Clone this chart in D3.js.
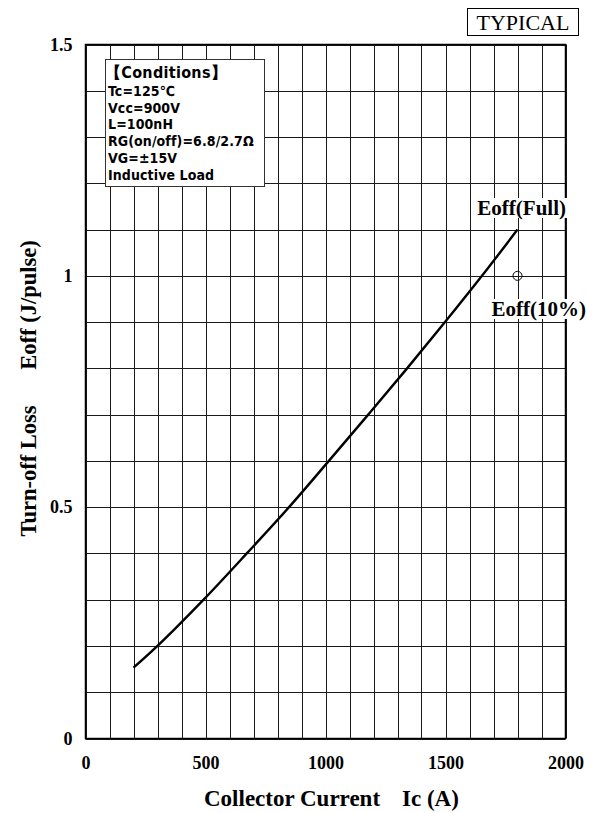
<!DOCTYPE html>
<html>
<head>
<meta charset="utf-8">
<script src="https://cdn.jsdelivr.net/npm/d3@7"></script>
<style>
  body { margin: 0; background: #fff; }
  svg { display: block; }
</style>
</head>
<body>
<div id="chart"></div>
<script>
// values (Ic where the curve crosses each grid line)
var current = [200, 300, 492, 672, 848, 1014, 1178, 1340, 1498, 1652, 1800];
var eoffFull = [0.153, 0.2, 0.3, 0.4, 0.5, 0.6, 0.7, 0.8, 0.9, 1.0, 1.1];
var eoff10 = [{ ic: 1800, e: 1.0 }];
var xTicks = [0, 500, 1000, 1500, 2000];
var yTicks = [0, 0.5, 1, 1.5];
var conditions = ["【Conditions】", "Tc=125℃", "Vcc=900V", "L=100nH",
                  "RG(on/off)=6.8/2.7Ω", "VG=±15V", "Inductive Load"];

var W = 597, H = 813;
var dim = { left: 85.5, right: 565.5, top: 44.5, bottom: 738.5 };

var svg = d3.select("#chart").append("svg")
            .attr("width", W)
            .attr("height", H);

var xScale = d3.scaleLinear().domain([0, 2000]).range([dim.left, dim.right]);
var yScale = d3.scaleLinear().domain([0, 1.5]).range([dim.bottom, dim.top]);

// grid lines, 100 A and 0.1 J
var grid = svg.append("g").attr("stroke", "#1a1a1a").attr("stroke-width", 1);
grid.selectAll(".vg")
    .data(xScale.ticks(20))
    .enter().append("line")
    .attr("x1", function(d) { return Math.round(xScale(d)) + 0.5; })
    .attr("x2", function(d) { return Math.round(xScale(d)) + 0.5; })
    .attr("y1", dim.top)
    .attr("y2", dim.bottom);
grid.selectAll(".hg")
    .data(yScale.ticks(15))
    .enter().append("line")
    .attr("y1", function(d) { return Math.round(yScale(d)) + 0.5; })
    .attr("y2", function(d) { return Math.round(yScale(d)) + 0.5; })
    .attr("x1", dim.left)
    .attr("x2", dim.right);

// frame
svg.append("rect")
   .attr("x", dim.left).attr("y", dim.top)
   .attr("width", dim.right - dim.left)
   .attr("height", dim.bottom - dim.top)
   .attr("fill", "none")
   .attr("stroke", "#000")
   .attr("stroke-width", 1.5);

// axes (labels only)
var xAxis = d3.axisBottom(xScale).tickValues(xTicks).tickSize(0).tickPadding(0)
              .tickFormat(d3.format("d"));
svg.append("g")
   .attr("class", "xAxis")
   .attr("transform", "translate(0," + (dim.bottom + 24) + ")")
   .call(xAxis);
var yAxis = d3.axisLeft(yScale).tickValues(yTicks).tickSize(0).tickPadding(13)
              .tickFormat(function(d) { return d; });
svg.append("g")
   .attr("class", "yAxis")
   .attr("transform", "translate(" + dim.left + ",0)")
   .call(yAxis);
svg.selectAll(".xAxis .domain, .yAxis .domain").remove();
svg.selectAll(".xAxis text, .yAxis text")
   .attr("font-family", "Liberation Serif")
   .attr("font-weight", "bold")
   .attr("font-size", 18)
   .attr("fill", "#000");
svg.selectAll(".xAxis text").attr("dy", "0.35em");

// axis titles
svg.append("text")
   .attr("x", 204).attr("y", 806)
   .attr("font-family", "Liberation Serif")
   .attr("font-weight", "bold")
   .attr("font-size", 23)
   .text("Collector Current");
svg.append("text")
   .attr("x", 402).attr("y", 806)
   .attr("font-family", "Liberation Serif")
   .attr("font-weight", "bold")
   .attr("font-size", 23)
   .text("Ic (A)");
svg.append("text")
   .attr("transform", "translate(36,471) rotate(-90)")
   .attr("text-anchor", "middle")
   .attr("font-family", "Liberation Serif")
   .attr("font-weight", "bold")
   .attr("font-size", 22.5)
   .text("Turn-off Loss");
svg.append("text")
   .attr("transform", "translate(36,305) rotate(-90)")
   .attr("text-anchor", "middle")
   .attr("font-family", "Liberation Serif")
   .attr("font-weight", "bold")
   .attr("font-size", 22.5)
   .text("Eoff (J/pulse)");

// curve
var line = d3.line()
             .x(function(d, i) { return xScale(current[i]); })
             .y(function(d) { return yScale(d); })
             .curve(d3.curveCatmullRom);
svg.append("path")
   .attr("d", line(eoffFull))
   .attr("fill", "none")
   .attr("stroke", "#000")
   .attr("stroke-width", 2.4);

// 10% point
svg.selectAll(".pt")
   .data(eoff10)
   .enter().append("circle")
   .attr("cx", function(d) { return xScale(d.ic); })
   .attr("cy", function(d) { return yScale(d.e); })
   .attr("r", 4.5)
   .attr("fill", "none")
   .attr("stroke", "#000")
   .attr("stroke-width", 1);

// series labels with white backing
function label(txt, x, y) {
  var g = svg.append("g");
  var t = g.append("text")
           .attr("x", x).attr("y", y)
           .attr("text-anchor", "end")
           .attr("font-family", "Liberation Serif")
           .attr("font-weight", "bold")
           .attr("font-size", 21)
           .text(txt);
  var b = t.node().getBBox();
  g.insert("rect", "text")
   .attr("x", b.x - 2).attr("y", b.y + 2)
   .attr("width", b.width + 4).attr("height", b.height - 4)
   .attr("fill", "#fff");
}
label("Eoff(Full)", 566, 215);
label("Eoff(10%)", 586, 316);

// conditions box
svg.append("rect")
   .attr("x", 105.5).attr("y", 59.5)
   .attr("width", 159).attr("height", 127)
   .attr("fill", "#fff")
   .attr("stroke", "#333")
   .attr("stroke-width", 1);
svg.selectAll(".cond")
   .data(conditions)
   .enter().append("text")
   .attr("x", function(d, i) { return i == 0 ? 105 : 108; })
   .attr("y", function(d, i) { return i == 0 ? 72 : 74 + i * 16.8; })
   .attr("dy", "0.35em")
   .attr("font-family", "DejaVu Sans Condensed, DejaVu Sans")
   .attr("font-weight", "bold")
   .attr("font-size", function(d, i) { return i == 0 ? 16 : 14; })
   .attr("letter-spacing", function(d, i) { return i == 0 ? 0.3 : 0.1; })
   .text(function(d) { return d; });

// TYPICAL box
svg.append("rect")
   .attr("x", 467.5).attr("y", 8.5)
   .attr("width", 111).attr("height", 27)
   .attr("fill", "#fff")
   .attr("stroke", "#000")
   .attr("stroke-width", 1);
svg.append("text")
   .attr("x", 523).attr("y", 30)
   .attr("text-anchor", "middle")
   .attr("font-family", "Liberation Serif")
   .attr("font-size", 22)
   .text("TYPICAL");
</script>
</body>
</html>
